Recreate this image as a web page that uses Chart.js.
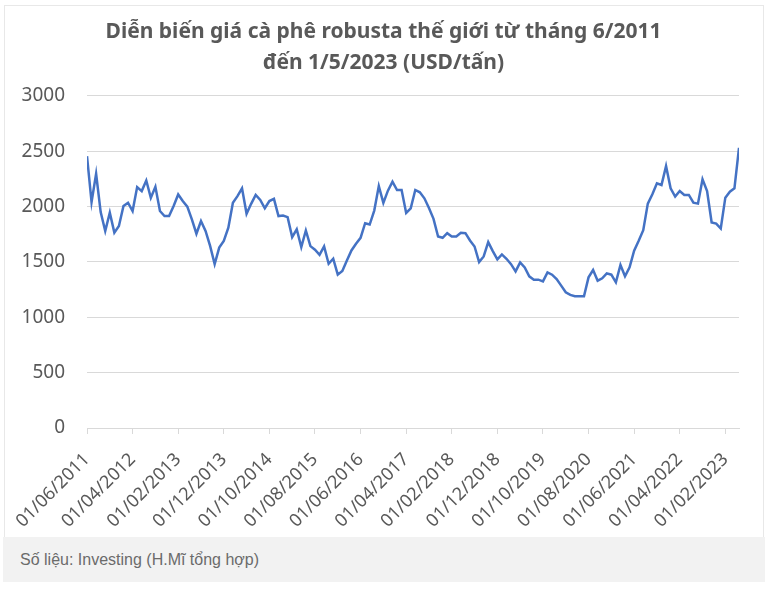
<!DOCTYPE html>
<html>
<head>
<meta charset="utf-8">
<script src="https://cdn.jsdelivr.net/npm/chart.js@4.4.0/dist/chart.umd.min.js"></script>
<style>
  body { margin: 0; background: #fff; }
  #wrap { position: relative; width: 767px; height: 589px; overflow: hidden; }
  #frame { position: absolute; left: 4px; top: 5px; width: 758px; height: 540px; border: 1px solid #e8e8e8; }
  #chart { position: absolute; left: 0; top: 0; }
  #note {
    position: absolute; left: 3px; top: 537px; width: 762px; height: 45px;
    background: #f2f2f2; color: #6b6b6b; box-sizing: border-box; padding-left: 17px;
    font: 16px "Liberation Sans", Arial, sans-serif; line-height: 45px;
  }
</style>
</head>
<body>
<div id="wrap">
  <div id="frame"></div>
  <canvas id="chart" width="767" height="537"></canvas>
  <div id="note">Số liệu: Investing (H.Mĩ tổng hợp)</div>
</div>
<script>
const titleLines = ['Diễn biến giá cà phê robusta thế giới từ tháng 6/2011', 'đến 1/5/2023 (USD/tấn)'];

// one label every 10 months, starting 01/06/2011
const tickLabels = ['01/06/2011', '01/04/2012', '01/02/2013', '01/12/2013', '01/10/2014',
    '01/08/2015', '01/06/2016', '01/04/2017', '01/02/2018', '01/12/2018',
    '01/10/2019', '01/08/2020', '01/06/2021', '01/04/2022', '01/02/2023'];

// monthly robusta price, USD/tấn (06/2011 -> 05/2023)
const prices = [
    2455, 2041, 2296, 1950, 1780, 1945, 1765, 1825, 2005, 2035,
    1960, 2176, 2140, 2236, 2080, 2179, 1960, 1915, 1915, 2005,
    2110, 2050, 2000, 1885, 1755, 1870, 1780, 1645, 1480, 1630,
    1690, 1810, 2035, 2095, 2165, 1935, 2025, 2105, 2060, 1985,
    2050, 2070, 1915, 1920, 1905, 1725, 1795, 1634, 1784, 1643,
    1610, 1565, 1640, 1484, 1529, 1385, 1418, 1514, 1604, 1664,
    1718, 1850, 1838, 1964, 2185, 2033, 2144, 2225, 2150, 2150,
    1943, 1985, 2150, 2129, 2075, 1988, 1889, 1730, 1718, 1760,
    1730, 1730, 1763, 1760, 1694, 1640, 1499, 1550, 1679, 1598,
    1523, 1568, 1529, 1480, 1415, 1496, 1451, 1370, 1340, 1340,
    1325, 1406, 1385, 1346, 1286, 1226, 1202, 1190, 1190, 1190,
    1361, 1427, 1331, 1352, 1397, 1385, 1316, 1472, 1370, 1451,
    1601, 1691, 1787, 2027, 2111, 2210, 2195, 2366, 2165, 2090,
    2141, 2105, 2105, 2036, 2027, 2246, 2141, 1856, 1847, 1802,
    2081, 2135, 2165, 2531
];

const textColor = '#595959';
const gridColor = '#d9d9d9';

const ctx = document.getElementById('chart').getContext('2d');
new Chart(ctx, {
    type: 'line',
    data: {
        datasets: [{
            data: prices.map((v, i) => ({ x: i, y: v })),
            borderColor: '#4472C4',
            borderWidth: 2.5,
            pointRadius: 0,
            tension: 0,
            fill: false
        }]
    },
    options: {
        responsive: false,
        animation: false,
        layout: { padding: 0 },
        plugins: {
            legend: { display: false },
            tooltip: { enabled: false },
            title: {
                display: true,
                text: titleLines,
                color: textColor,
                font: { family: 'Noto Sans', size: 21, weight: 'bold', lineHeight: 1.45 },
                padding: { top: 17, bottom: 18 }
            }
        },
        scales: {
            x: {
                type: 'linear',
                min: 0,
                max: prices.length - 1,
                grid: { drawOnChartArea: false, drawTicks: true, tickLength: 6, color: gridColor },
                border: { color: gridColor },
                ticks: {
                    stepSize: 10,
                    includeBounds: false,
                    autoSkip: false,
                    minRotation: 45,
                    maxRotation: 45,
                    padding: 15,
                    color: textColor,
                    font: { family: 'Noto Sans', size: 18 },
                    callback: v => tickLabels[v / 10]
                },
                afterFit: s => { s.height = 109; }
            },
            y: {
                min: 0,
                max: 3000,
                grid: { color: gridColor, drawTicks: false },
                border: { display: false },
                ticks: {
                    stepSize: 500,
                    padding: 22,
                    color: textColor,
                    font: { family: 'Noto Sans', size: 19 },
                    callback: v => String(v)
                },
                afterFit: s => { s.width = 87; }
            },
            // empty right-hand axis, only keeps space at the right edge
            yRight: {
                position: 'right',
                min: 0,
                max: 3000,
                grid: { drawOnChartArea: false, drawTicks: false },
                border: { display: false },
                ticks: { display: false },
                afterFit: s => { s.width = 28; }
            }
        }
    }
});
</script>
</body>
</html>
